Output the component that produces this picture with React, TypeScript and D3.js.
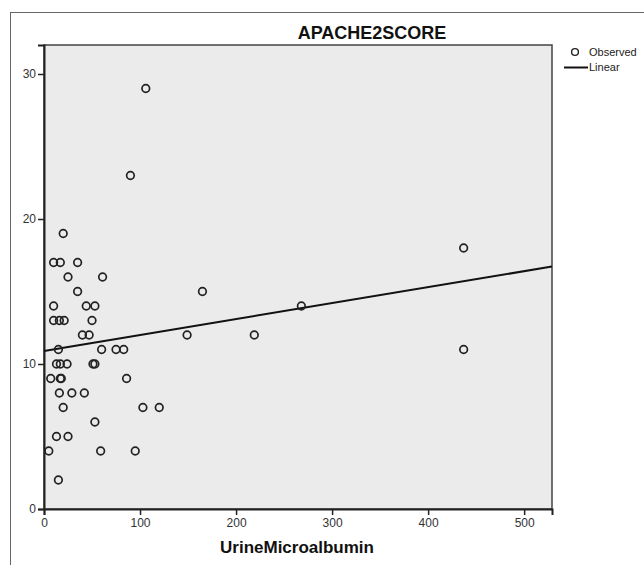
import React, { useEffect, useRef } from "react";
import * as d3 from "d3";

// values (UrineMicroalbumin vs APACHE2SCORE)
const urineMicroalbumin = [
  20, 10, 17, 35, 25, 61, 35, 10, 44, 53,
  10, 16, 21, 50, 40, 47, 149, 15, 60, 75,
  83, 13, 17, 24, 51, 53, 7, 17, 18, 86,
  16, 29, 42, 20, 103, 120, 53, 13, 25, 5,
  59, 95, 15, 106, 90, 165, 219, 268, 437, 437
];
const apache2Score = [
  19, 17, 17, 17, 16, 16, 15, 14, 14, 14,
  13, 13, 13, 13, 12, 12, 12, 11, 11, 11,
  11, 10, 10, 10, 10, 10, 9, 9, 9, 9,
  8, 8, 8, 7, 7, 7, 6, 5, 5, 4,
  4, 4, 2, 29, 23, 15, 12, 14, 18, 11
];
const xTicks = [0, 100, 200, 300, 400, 500];
const yTicks = [0, 10, 20, 30];
const legendItems = ["Observed", "Linear"];

// fitted line as drawn in the chart
const fitIntercept = 10.9;
const fitSlope = 0.011;

const chartTitle = "APACHE2SCORE";
const xTitle = "UrineMicroalbumin";

export default function App() {
  const ref = useRef<SVGSVGElement>(null);

  useEffect(() => {
    const svg = d3.select(ref.current);
    svg.selectAll("*").remove();

    const left = 44, right = 552, top = 45, bottom = 509;
    const font = "'Liberation Sans', Arial, sans-serif";

    const x = d3.scaleLinear().domain([0, 529]).range([left, right]);
    const y = d3.scaleLinear().domain([0, 32]).range([bottom, top]);

    // outer frame
    svg.append("rect")
      .attr("x", 10.5).attr("y", 12.5)
      .attr("width", 700).attr("height", 700)
      .attr("fill", "white")
      .attr("stroke", "#666").attr("stroke-width", 1);

    // plot background
    svg.append("rect")
      .attr("x", left).attr("y", top)
      .attr("width", right - left).attr("height", bottom - top)
      .attr("fill", "#ebebeb")
      .attr("stroke", "#444").attr("stroke-width", 1.5);

    // axes
    const xAxis = svg.append("g")
      .attr("transform", `translate(0,${bottom})`)
      .call(d3.axisBottom(x).tickValues(xTicks).tickSize(6).tickPadding(3).tickFormat(d3.format("d")));
    const yAxis = svg.append("g")
      .attr("transform", `translate(${left},0)`)
      .call(d3.axisLeft(y).tickValues(yTicks).tickSize(6).tickPadding(2).tickFormat(d3.format("d")));

    [xAxis, yAxis].forEach(g => {
      g.select(".domain").attr("stroke", "#222").attr("stroke-width", 2);
      g.selectAll(".tick line").attr("stroke", "#222").attr("stroke-width", 1.5);
      g.selectAll(".tick text")
        .attr("fill", "#333")
        .style("font-family", font)
        .style("font-size", "12px");
    });

    // regression line
    const xd = x.domain();
    svg.append("line")
      .attr("x1", x(xd[0])).attr("y1", y(fitIntercept + fitSlope * xd[0]))
      .attr("x2", x(xd[1])).attr("y2", y(fitIntercept + fitSlope * xd[1]))
      .attr("stroke", "#111").attr("stroke-width", 2);

    // observed points
    svg.append("g")
      .selectAll("circle")
      .data(urineMicroalbumin.map((v, i) => [v, apache2Score[i]]))
      .enter()
      .append("circle")
      .attr("cx", d => x(d[0]))
      .attr("cy", d => y(d[1]))
      .attr("r", 3.8)
      .attr("fill", "none")
      .attr("stroke", "#222")
      .attr("stroke-width", 1.7);

    // titles
    svg.append("text")
      .attr("x", 372).attr("y", 39)
      .attr("text-anchor", "middle")
      .style("font-family", font).style("font-weight", "bold").style("font-size", "18px")
      .attr("fill", "#111")
      .text(chartTitle);

    svg.append("text")
      .attr("x", 297).attr("y", 553)
      .attr("text-anchor", "middle")
      .style("font-family", font).style("font-weight", "bold").style("font-size", "17px")
      .attr("fill", "#111")
      .text(xTitle);

    // legend
    const legend = svg.append("g");
    legend.append("circle")
      .attr("cx", 575).attr("cy", 52).attr("r", 3.4)
      .attr("fill", "none").attr("stroke", "#222").attr("stroke-width", 1.4);
    legend.append("line")
      .attr("x1", 564).attr("x2", 588).attr("y1", 67.5).attr("y2", 67.5)
      .attr("stroke", "#111").attr("stroke-width", 2);
    legend.selectAll("text.lg")
      .data(legendItems)
      .enter()
      .append("text")
      .attr("class", "lg")
      .attr("x", 589)
      .attr("y", (d, i) => 56 + i * 15)
      .style("font-family", font).style("font-size", "11px")
      .attr("fill", "#222")
      .text(d => d);
  }, []);

  return (
    <svg ref={ref} width={644} height={565}
      style={{ position: "absolute", left: 0, top: 0, background: "white" }} />
  );
}
